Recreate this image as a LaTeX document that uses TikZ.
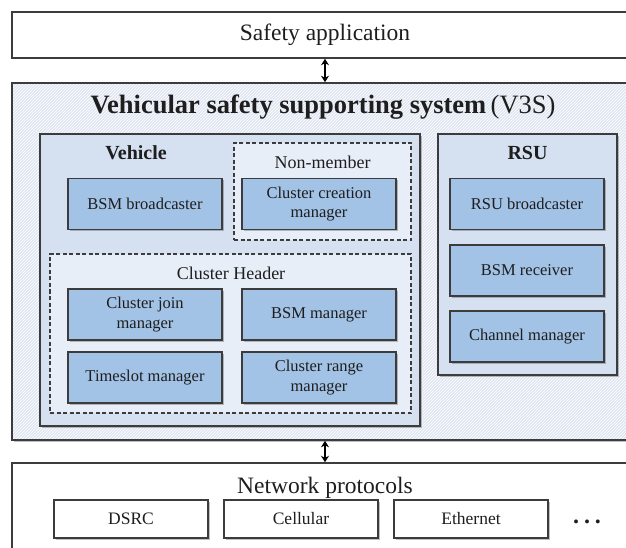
\documentclass[tikz,border=0pt]{standalone}
\usepackage{fontspec}
\setmainfont{Liberation Serif}
\usetikzlibrary{arrows.meta,shadows,patterns}
\definecolor{linec}{HTML}{3C3C3C}
\definecolor{txtc}{HTML}{1E1E1E}
\definecolor{bluef}{HTML}{A2C2E6}
\definecolor{outerf}{HTML}{DFE7F3}
\definecolor{innerf}{HTML}{D5E1F1}
\definecolor{dashf}{HTML}{E7EEF8}
\begin{document}
\begin{tikzpicture}[x=1pt,y=-1pt,
  every node/.style={text=txtc, inner sep=0pt},
  softshadow/.style={drop shadow={shadow xshift=1.6pt, shadow yshift=-1.6pt, opacity=0.35, fill=black!70}},
  layerbox/.style={draw=linec, line width=1.5pt, fill=white, font=\fontsize{23.5}{26}\selectfont},
  sysbox/.style={softshadow, preaction={fill=outerf}, draw=linec, line width=1.6pt, pattern=north east lines, pattern color=white},
  groupbox/.style={draw=linec, line width=1.4pt, fill=innerf, softshadow},
  rolebox/.style={draw=linec, line width=1.4pt, dash pattern=on 4pt off 2.5pt, fill=dashf},
  comp/.style={draw=linec, line width=1.3pt, fill=bluef, minimum width=154pt, minimum height=51pt, align=center, font=\fontsize{16.5}{19.5}\selectfont, softshadow},
  proto/.style={draw=linec, line width=1.2pt, fill=white, minimum width=154pt, minimum height=38pt, font=\fontsize{17.5}{20}\selectfont, softshadow},
  grouptitle/.style={font=\bfseries\fontsize{20}{22}\selectfont},
  roletitle/.style={font=\fontsize{18}{21}\selectfont},
  biarrow/.style={{Stealth[length=6.5pt,width=8pt]}-{Stealth[length=6.5pt,width=8pt]}, line width=1.5pt, draw=black}
]
\useasboundingbox (0,0) rectangle (626,548);
\fill[white] (0,0) rectangle (626,548);
\clip (0,0) rectangle (626,548);

% top layer
\node[layerbox, minimum width=626pt, minimum height=46pt] (app) at (325,35) {Safety application};

% V3S system
\node[sysbox, minimum width=626pt, minimum height=357pt] (v3s) at (325,261.5) {};
\node[font=\fontsize{26.5}{29}\selectfont] (v3sT) at (323,107) {\textbf{Vehicular safety supporting system}\,(V3S)};

% Vehicle
\node[groupbox, minimum width=380pt, minimum height=292pt] (veh) at (230,280) {};
\node[grouptitle] (vehT) at (136,153) {Vehicle};

\node[rolebox, minimum width=177pt, minimum height=97pt] (nonm) at (322.5,191.5) {};
\node[roletitle] (nonmT) at (322.5,162) {Non-member};

\node[comp] (bsmb) at (145,204) {BSM broadcaster};
\node[comp] (ccm) at (319,204) {Cluster creation\\manager};

\node[rolebox, minimum width=361pt, minimum height=159pt] (ch) at (230.5,333.5) {};
\node[roletitle] (chT) at (231,273) {Cluster Header};

\node[comp] (cjm) at (145,314.5) {Cluster join\\manager};
\node[comp] (bsmm) at (319,314.5) {BSM manager};
\node[comp] (tsm) at (145,377.5) {Timeslot manager};
\node[comp] (crm) at (319,377.5) {Cluster range\\manager};

% RSU
\node[groupbox, minimum width=179pt, minimum height=241pt] (rsu) at (527.5,254.5) {};
\node[grouptitle] (rsuT) at (527.5,153) {RSU};
\node[comp] (rsub) at (527,204) {RSU broadcaster};
\node[comp] (bsmr) at (527,270.5) {BSM receiver};
\node[comp] (chm) at (527,336.5) {Channel manager};

% Network protocols
\node[layerbox, minimum width=626pt, minimum height=117pt] (net) at (325,521.5) {};
\node[font=\fontsize{23.5}{26}\selectfont] (netT) at (325,488) {Network protocols};
\node[proto] (dsrc) at (131,519) {DSRC};
\node[proto] (cell) at (301,519) {Cellular};
\node[proto] (eth) at (471,519) {Ethernet};
\node[font=\bfseries\fontsize{24}{26}\selectfont, anchor=base] (dots) at (587,523) {.\hspace{5pt}.\hspace{5pt}.};

% connectors
\draw[biarrow] (app.south) -- (v3s.north);
\draw[biarrow] (v3s.south) -- (net.north);
\end{tikzpicture}
\end{document}
